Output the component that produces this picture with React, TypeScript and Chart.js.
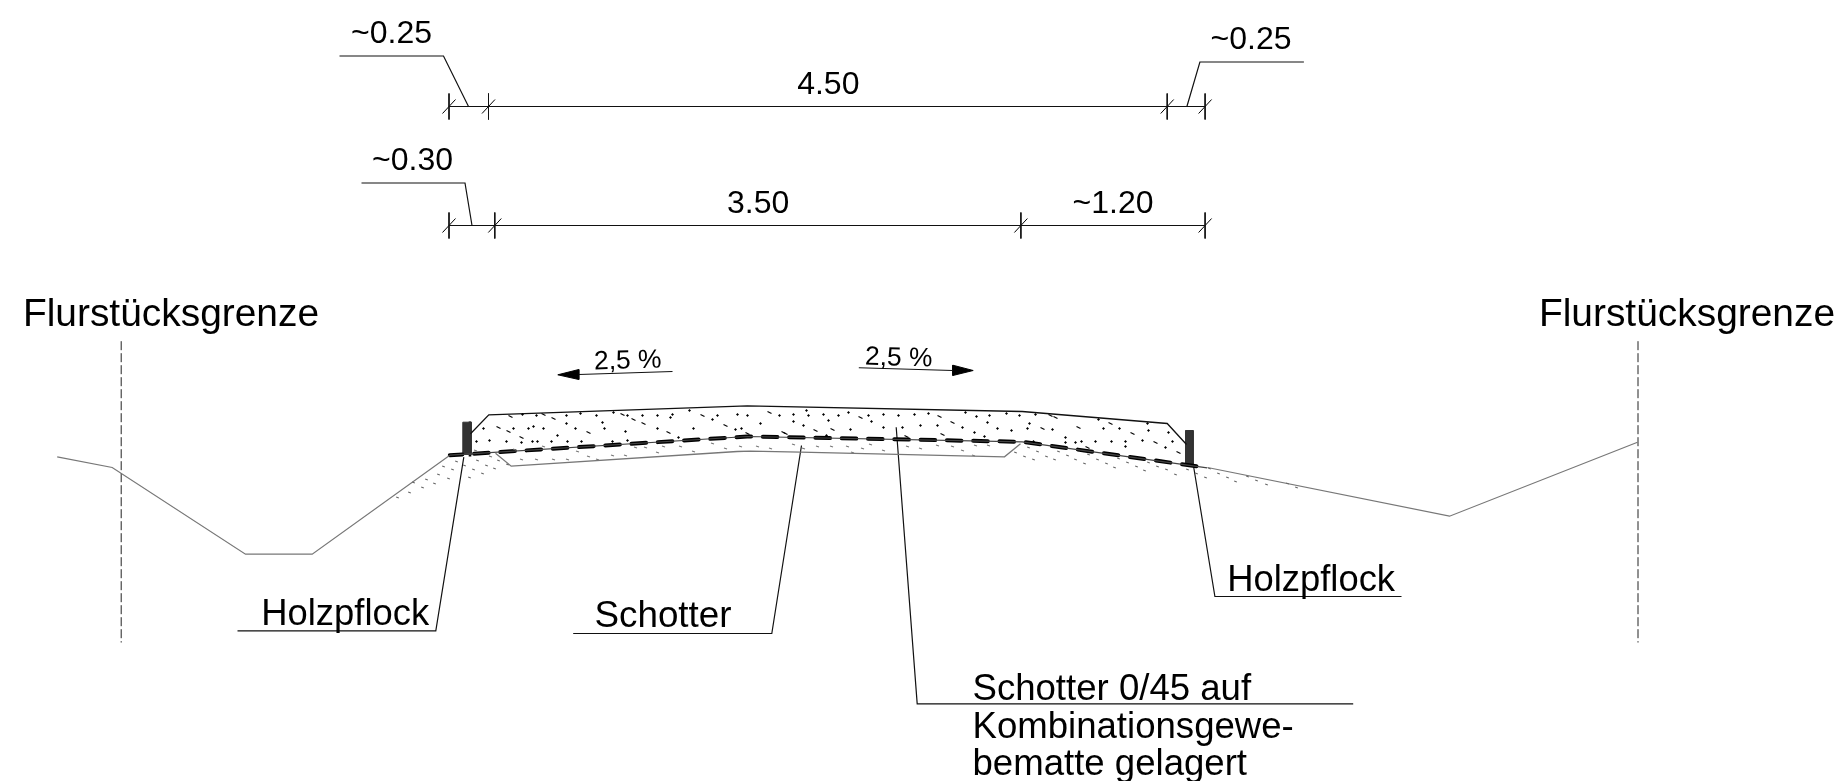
import React, { useEffect, useRef } from "react";
import { Chart, registerables } from "chart.js";

Chart.register(...registerables);

type P = [number, number];

// Drawing units of the cross-section sheet (origin top left, y downward)
const groundLeft: P[] = [[56.7, 456.3], [111.7, 467], [245, 553.7], [311.7, 553.7], [449, 455]];
const groundRight: P[] = [[1207, 467], [1449, 515.7], [1637, 441.7]];
const gravelTop: P[] = [[470, 433.3], [488.3, 414.3], [746.7, 405.3], [1021.7, 411], [1166.7, 423], [1186, 444]];
const gravelBottom: P[] = [[495, 452.7], [510.7, 465.7], [736.7, 451], [750, 450.7], [800, 451.7], [1004, 456.3], [1020, 443.3]];
const geotextile: P[] = [[449.3, 454.7], [746.7, 436], [1021.7, 441.3], [1206.7, 467.3]];

const boundaryLeft: P[] = [[120.7, 340.7], [120.7, 642]];
const boundaryRight: P[] = [[1637.5, 340.7], [1637.5, 642]];

const stakeLeft: P[] = [[462.3, 421.7], [470.7, 421.7], [470.7, 454], [462.3, 454], [462.3, 421.7]];
const stakeRight: P[] = [[1185, 430], [1192.7, 430], [1192.7, 465], [1185, 465], [1185, 430]];
const stakeLeftEdge: P[] = [[469.5, 421], [469.5, 456]];
const stakeRightEdge: P[] = [[1186.5, 430], [1186.5, 465]];
const stakeGrain: P[] = [
  [465, 427], [466, 433], [465, 438], [467, 443], [465, 449], [1189, 433], [1190, 439], [1189, 445], [1190, 451], [1189, 458],
];

const leaders: P[][] = [
  [[339, 55.5], [443, 55.5], [468, 106]],
  [[1186.4, 106], [1199.4, 61.5], [1303.4, 61.5]],
  [[361, 182.5], [464.5, 182.5], [471.5, 225]],
  [[237, 630.3], [435.3, 630.3], [463.3, 456.7]],
  [[572.7, 633], [771.3, 633], [801, 445]],
  [[895.7, 426.7], [916.7, 703.3], [1352.7, 703.3]],
  [[1192.6, 463], [1214.4, 596], [1401, 596]],
];

const dimRowA = { y: 106, x: [448.5, 488, 1166.7, 1204.6] };
const dimRowB = { y: 225, x: [448.5, 494.3, 1020.4, 1204.6] };

const slopeLeft: P[] = [[672, 371], [578.3, 374]];
const slopeLeftHead: P[] = [[557.3, 374.3], [578.3, 369], [578.3, 379], [557.3, 374.3]];
const slopeRight: P[] = [[858.3, 367.3], [952.3, 370]];
const slopeRightHead: P[] = [[972.7, 370], [952.3, 364.7], [952.3, 375], [972.7, 370]];

const gravelDots: P[] = [
  [522, 414], [536, 415], [566, 415], [580, 413], [596, 415], [613, 412], [627, 415], [642, 415], [657, 415], [672, 414],
  [689, 410], [717, 415], [737, 414], [747, 415], [779, 415], [793, 414], [808, 415], [806, 410], [483, 428], [513, 428],
  [528, 428], [533, 426], [543, 428], [557, 435], [566, 423], [575, 428], [602, 422], [604, 428], [625, 431], [657, 428],
  [670, 417], [693, 428], [712, 419], [735, 429], [741, 428], [760, 423], [793, 421], [803, 425], [476, 441], [489, 440],
  [506, 441], [521, 442], [532, 441], [537, 441], [551, 441], [567, 441], [581, 441], [612, 441], [627, 440], [678, 437],
  [823, 414], [838, 415], [848, 412], [868, 415], [883, 414], [898, 415], [914, 414], [928, 413], [965, 412], [976, 416],
  [989, 415], [1006, 413], [1019, 415], [1035, 414], [1098, 419], [1147, 423], [828, 420], [850, 429], [871, 421], [883, 427],
  [902, 427], [920, 425], [937, 425], [962, 427], [974, 432], [987, 422], [997, 428], [1011, 430], [1027, 428], [1029, 423],
  [1052, 429], [1103, 428], [1119, 428], [1148, 430], [1168, 432], [826, 435], [984, 436], [1033, 441], [1065, 437], [1065, 442],
  [1081, 441], [1075, 442], [1095, 441], [1111, 441], [1125, 441], [1125, 446], [1142, 440], [1172, 441], [1165, 447],
];
const gravelStones: P[] = [
  [510, 416], [543, 414], [553, 418], [622, 414], [702, 415], [769, 412], [498, 427], [508, 431], [588, 432], [633, 419],
  [643, 423], [668, 432], [725, 425], [783, 432], [815, 430], [521, 437], [747, 433], [785, 433], [860, 417], [939, 416],
  [1050, 415], [1055, 417], [1110, 423], [832, 429], [952, 422], [1042, 428], [1078, 427], [1132, 433], [906, 436], [942, 434],
  [1087, 447], [1155, 442], [1178, 452],
];
const baseCourseMarks: P[] = [
  [475, 450], [490, 456], [514, 449], [521, 459], [536, 459], [543, 446], [553, 459], [567, 459], [577, 451], [588, 456],
  [597, 459], [612, 455], [625, 455], [635, 447], [645, 447], [657, 452], [663, 446], [680, 446], [693, 451], [712, 443],
  [725, 448], [740, 446], [757, 446], [770, 448], [793, 444], [803, 448], [817, 446], [831, 446], [847, 446], [862, 448],
  [870, 444], [883, 450], [907, 446], [920, 448], [937, 445], [952, 446], [962, 450], [975, 445], [988, 445], [973, 455],
  [852, 452],
];
const subgradeMarks: P[] = [
  [397, 497], [409, 492], [413, 482], [422, 487], [426, 479], [434, 483], [438, 474], [448, 478], [443, 466], [452, 469],
  [456, 461], [464, 465], [469, 477], [473, 469], [482, 473], [477, 460], [486, 465], [494, 468], [498, 460], [507, 464],
  [1015, 452], [1024, 456], [1028, 447], [1033, 459], [1037, 451], [1046, 456], [1054, 459], [1058, 451], [1067, 455], [1075, 459],
  [1084, 463], [1088, 454], [1097, 459], [1106, 463], [1114, 467], [1118, 458], [1127, 462], [1136, 466], [1144, 470], [1148, 462],
  [1157, 466], [1166, 469], [1175, 474], [1187, 469], [1196, 473], [1205, 477], [1209, 468], [1218, 473], [1227, 477], [1235, 481],
  [1247, 476], [1256, 480], [1266, 484], [1287, 483], [1296, 487],
];

const dimLabels: [string, number, number][] = [
  ["~0.25", 391, 42], ["~0.25", 1250.6, 48], ["4.50", 827.8, 93], ["~0.30", 412, 169], ["3.50", 757.6, 212], ["~1.20", 1112.6, 212],
];
const noteLabels: [string, number, number, number][] = [
  ["Flurstücksgrenze", 170.5, 325.7, 38.9], ["Flurstücksgrenze", 1686.5, 325.7, 38.9],
  ["Holzpflock", 344.7, 624, 36.4], ["Holzpflock", 1310.6, 590, 36.4], ["Schotter", 662.5, 626.7, 36.8],
];
const materialLines: [string, number][] = [["Schotter 0/45 auf", 699.3], ["Kombinationsgewe-", 737.3], ["bematte gelagert", 774]];
const materialLeft = 972;
const slopeLabels: [string, number, number, number][] = [["2,5 %", 627.5, 368, -1.8], ["2,5 %", 898, 365, 1.6]];

const xy = (pts: P[]) => pts.map(([x, y]) => ({ x, y }));
const line = (pts: P[], color: string, width: number, extra: object = {}) => ({
  type: "scatter" as const,
  data: xy(pts),
  showLine: true,
  borderColor: color,
  backgroundColor: color,
  borderWidth: width,
  pointRadius: 0,
  tension: 0,
  ...extra,
});
const marks = (pts: P[], color: string, style: string, radius: number, extra: object = {}) => ({
  type: "scatter" as const,
  data: xy(pts),
  showLine: false,
  pointStyle: style,
  pointRadius: radius,
  pointBackgroundColor: color,
  pointBorderColor: color,
  pointBorderWidth: 1,
  ...extra,
});
const dimension = (row: { y: number; x: number[] }) => [
  line([[row.x[0], row.y], [row.x[row.x.length - 1], row.y]], "#111", 1.2),
  ...row.x.flatMap((x) => [
    line([[x, row.y - 13], [x, row.y + 13]], "#111", 1),
    line([[x - 6.5, row.y + 7], [x + 6.5, row.y - 7]], "#000", 1),
  ]),
];

const textPlugin = {
  id: "sheetText",
  afterDatasetsDraw(chart: any) {
    const { ctx, scales } = chart;
    const sx = scales.x;
    const sy = scales.y;
    const put = (t: string, x: number, y: number, size: number, align: CanvasTextAlign, deg = 0) => {
      ctx.save();
      ctx.translate(sx.getPixelForValue(x), sy.getPixelForValue(y));
      ctx.rotate((deg * Math.PI) / 180);
      ctx.font = `${size}px "Liberation Sans"`;
      ctx.fillStyle = "#000";
      ctx.textAlign = align;
      ctx.textBaseline = "alphabetic";
      ctx.fillText(t, 0, 0);
      ctx.restore();
    };
    dimLabels.forEach(([t, x, y]) => put(t, x, y, 32, "center"));
    noteLabels.forEach(([t, x, y, s]) => put(t, x, y, s, "center"));
    materialLines.forEach(([t, y]) => put(t, materialLeft, y, 36.6, "left"));
    slopeLabels.forEach(([t, x, y, d]) => put(t, x, y, 26.4, "center", d));
  },
};

export default function App() {
  const ref = useRef<HTMLCanvasElement>(null);
  useEffect(() => {
    if (!ref.current) return;
    const chart = new Chart(ref.current, {
      type: "scatter",
      data: {
        datasets: [
          marks(subgradeMarks, "#666", "line", 1.4, { pointRotation: 20, pointBorderWidth: 1.1 }),
          marks(baseCourseMarks, "#777", "line", 1.6, { pointRotation: 20, pointBorderWidth: 1.1 }),
          marks(gravelDots, "#000", "circle", 0.8),
          marks(gravelStones, "#000", "line", 2.2, { pointRotation: 25, pointBorderWidth: 1.2 }),
          line(groundLeft, "#777", 1.2),
          line(groundRight, "#777", 1.2),
          line(gravelBottom, "#777", 1.3),
          line(gravelTop, "#111", 1.3),
          line(geotextile, "#444", 1.2),
          line(geotextile, "#000", 4, { borderDash: [14.6, 11.7], borderDashOffset: 2, borderCapStyle: "round" }),
          line(stakeLeft, "#333", 1, { fill: "shape" }),
          line(stakeRight, "#333", 1, { fill: "shape" }),
          line(stakeLeftEdge, "#000", 2.6),
          line(stakeRightEdge, "#000", 3),
          marks(stakeGrain, "#ddd", "circle", 0.8),
          line(boundaryLeft, "#222", 1, { borderDash: [9, 3] }),
          line(boundaryRight, "#222", 1, { borderDash: [9, 3] }),
          ...leaders.map((l) => line(l, "#111", 1.2)),
          ...dimension(dimRowA),
          ...dimension(dimRowB),
          line(slopeLeft, "#111", 1.1),
          line(slopeRight, "#111", 1.1),
          line(slopeLeftHead, "#000", 1, { fill: "shape" }),
          line(slopeRightHead, "#000", 1, { fill: "shape" }),
        ] as any,
      },
      options: {
        animation: false,
        responsive: false,
        layout: { padding: 0, autoPadding: false },
        plugins: { legend: { display: false }, tooltip: { enabled: false }, title: { display: false } },
        events: [],
        scales: {
          x: { type: "linear", min: -0.5, max: 1836.5, display: false },
          y: { type: "linear", min: -0.5, max: 780.5, reverse: true, display: false },
        },
      },
      plugins: [textPlugin],
    } as any);
    return () => chart.destroy();
  }, []);
  return (
    <div style={{ position: "absolute", left: 0, top: 0, width: 1837, height: 781, background: "#fff", overflow: "hidden" }}>
      <canvas ref={ref} width={1837} height={781} style={{ display: "block", width: 1837, height: 781 }} />
    </div>
  );
}
